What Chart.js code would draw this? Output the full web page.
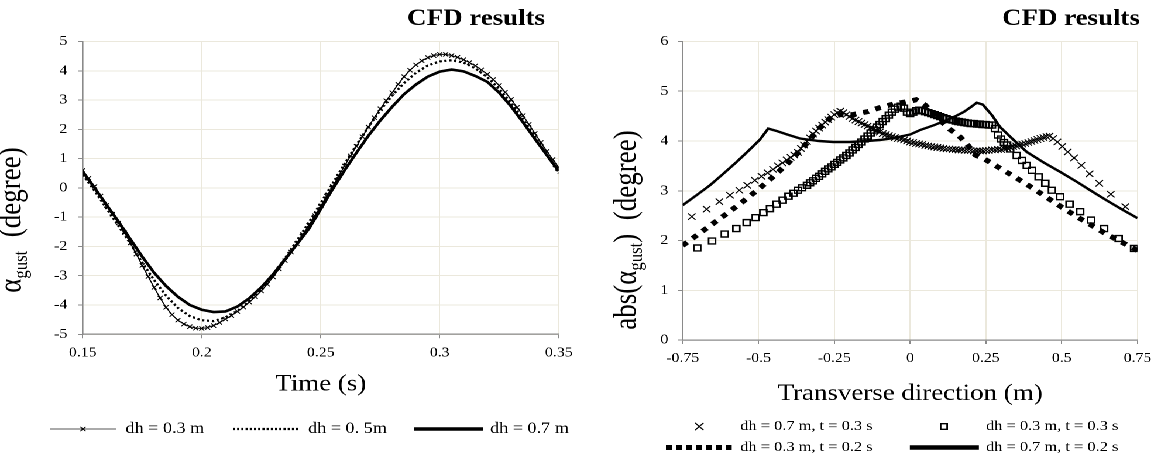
<!DOCTYPE html>
<html>
<head>
<meta charset="utf-8">
<script src="https://cdn.jsdelivr.net/npm/chart.js"></script>
<style>
  html, body { margin: 0; padding: 0; background: #fff; overflow: hidden; }
  #wrap { position: absolute; left: 0; top: 0; width: 992px; height: 459px;
          transform: scaleX(1.17036); transform-origin: 0 0; }
  canvas { position: absolute; top: 0; }
</style>
</head>
<body>
<div id="wrap">
  <canvas id="left" width="496" height="459" style="left:0"></canvas>
  <canvas id="right" width="496" height="459" style="left:496px"></canvas>
</div>
<script>
// ---- left chart: gust angle vs time ----
const tFine = [0.15,0.1525,0.155,0.1575,0.16,0.1625,0.165,0.1675,0.17,0.1725,0.175,0.1775,0.18,0.1825,0.185,0.1875,0.19,0.1925,0.195,0.1975,
  0.2,0.2025,0.205,0.2075,0.21,0.2125,0.215,0.2175,0.22,0.2225,0.225,0.2275,0.23,0.2325,0.235,0.2375,0.24,0.2425,0.245,0.2475,
  0.25,0.2525,0.255,0.2575,0.26,0.2625,0.265,0.2675,0.27,0.2725,0.275,0.2775,0.28,0.2825,0.285,0.2875,0.29,0.2925,0.295,0.2975,
  0.3,0.3025,0.305,0.3075,0.31,0.3125,0.315,0.3175,0.32,0.3225,0.325,0.3275,0.33,0.3325,0.335,0.3375,0.34,0.3425,0.345,0.3475,0.35];
const dh03 = [0.60,0.33,0.05,-0.28,-0.60,-0.90,-1.20,-1.53,-1.88,-2.26,-2.65,-3.03,-3.40,-3.76,-4.08,-4.33,-4.52,-4.65,-4.74,-4.79,
  -4.80,-4.77,-4.70,-4.60,-4.48,-4.36,-4.22,-4.07,-3.90,-3.72,-3.52,-3.29,-3.04,-2.77,-2.48,-2.19,-1.90,-1.59,-1.28,-0.95,
  -0.62,-0.28,0.05,0.40,0.75,1.09,1.42,1.75,2.08,2.40,2.70,2.98,3.25,3.54,3.80,4.02,4.20,4.34,4.45,4.52,
  4.56,4.56,4.52,4.46,4.38,4.28,4.17,4.03,3.88,3.70,3.50,3.27,3.02,2.75,2.47,2.17,1.86,1.55,1.25,0.97,0.70];

const tCoarse = [0.15,0.155,0.16,0.165,0.17,0.175,0.18,0.185,0.19,0.195,0.2,0.205,0.21,0.215,0.22,0.225,0.23,0.235,0.24,0.245,
  0.25,0.255,0.26,0.265,0.27,0.275,0.28,0.285,0.29,0.295,0.3,0.305,0.31,0.315,0.32,0.325,0.33,0.335,0.34,0.345,0.35];
const dh05 = [0.45,-0.10,-0.70,-1.30,-1.90,-2.55,-3.15,-3.68,-4.10,-4.38,-4.52,-4.55,-4.42,-4.20,-3.88,-3.45,-2.95,-2.40,-1.80,-1.18,
  -0.52,0.15,0.82,1.47,2.08,2.65,3.15,3.58,3.93,4.18,4.32,4.36,4.28,4.08,3.78,3.38,2.90,2.35,1.75,1.12,0.50];
const dh07 = [0.55,0.00,-0.58,-1.15,-1.75,-2.35,-2.90,-3.35,-3.72,-4.00,-4.16,-4.24,-4.22,-4.05,-3.77,-3.40,-2.95,-2.45,-1.92,-1.40,
  -0.72,-0.04,0.60,1.20,1.78,2.30,2.77,3.20,3.53,3.80,3.97,4.04,3.98,3.82,3.62,3.25,2.78,2.24,1.67,1.12,0.58];

const leftLabels = ['dh = 0.3 m', 'dh = 0. 5m', 'dh = 0.7 m'];

// ---- right chart: |gust angle| across the transverse direction ----
const xA = [-0.720,-0.671,-0.629,-0.594,-0.563,-0.537,-0.512,-0.490,-0.470,-0.452,-0.436,-0.421,-0.407,-0.394,-0.382,
  -0.37,-0.36,-0.35,-0.34,-0.33,-0.32,-0.31,-0.30,-0.29,-0.28,-0.27,-0.26,-0.25,-0.24,-0.23,-0.22,-0.21,-0.20,-0.19,-0.18,
  -0.17,-0.16,-0.15,-0.14,-0.13,-0.12,-0.11,-0.10,-0.09,-0.08,-0.07,-0.06,-0.05,-0.04,-0.03,-0.02,-0.01,0.00,0.01,0.02,
  0.03,0.04,0.05,0.06,0.07,0.08,0.09,0.10,0.11,0.12,0.13,0.14,0.15,0.16,0.17,0.18,0.19,0.20,0.21,0.22,
  0.23,0.24,0.25,0.26,0.27,0.28,0.29,0.30,0.31,0.32,0.33,0.34,0.35,0.36,0.37,0.38,0.39,0.40,0.41,0.42,
  0.43,0.44,0.45,0.46,0.472,0.486,0.502,0.520,0.541,0.565,0.592,0.624,0.662,0.710];
const yA = [2.48,2.63,2.78,2.91,3.01,3.11,3.21,3.29,3.36,3.43,3.50,3.56,3.62,3.67,3.72,
  3.77,3.85,3.92,3.99,4.06,4.14,4.20,4.26,4.32,4.38,4.43,4.48,4.53,4.57,4.60,4.57,4.53,4.49,4.45,4.42,
  4.39,4.36,4.33,4.30,4.27,4.24,4.21,4.18,4.15,4.13,4.11,4.09,4.07,4.05,4.04,4.02,4.00,3.98,3.97,3.95,
  3.94,3.93,3.91,3.90,3.89,3.88,3.87,3.86,3.85,3.84,3.84,3.83,3.83,3.82,3.82,3.81,3.81,3.81,3.80,3.80,
  3.80,3.80,3.81,3.81,3.82,3.82,3.83,3.83,3.85,3.86,3.87,3.89,3.90,3.92,3.94,3.95,3.97,3.99,4.01,4.03,
  4.05,4.07,4.09,4.10,4.05,3.98,3.89,3.78,3.66,3.51,3.34,3.15,2.93,2.68];

const xB = [-0.702,-0.653,-0.611,-0.573,-0.539,-0.509,-0.484,-0.462,-0.440,-0.420,-0.401,-0.385,-0.370,-0.356,
  -0.34,-0.33,-0.32,-0.31,-0.30,-0.29,-0.28,-0.27,-0.26,-0.25,-0.24,-0.23,-0.22,-0.21,-0.20,-0.19,-0.18,-0.17,-0.16,-0.15,
  -0.14,-0.13,-0.12,-0.11,-0.10,-0.09,-0.08,-0.07,-0.06,-0.05,-0.04,-0.03,-0.02,-0.01,0.00,0.01,0.02,0.03,0.04,0.05,
  0.06,0.07,0.08,0.09,0.10,0.11,0.12,0.13,0.14,0.15,0.16,0.17,0.18,0.19,0.20,0.21,0.22,0.23,0.24,0.25,
  0.26,0.27,0.28,0.29,0.30,0.31,0.32,0.33,
  0.352,0.369,0.385,0.402,0.424,0.446,0.468,0.495,0.526,0.561,0.597,0.640,0.688,0.739];
const yB = [1.85,1.99,2.13,2.24,2.36,2.46,2.56,2.64,2.73,2.81,2.89,2.95,3.01,3.06,
  3.11,3.16,3.20,3.25,3.29,3.34,3.39,3.44,3.48,3.53,3.57,3.62,3.66,3.71,3.76,3.82,3.87,3.93,3.98,4.04,
  4.10,4.16,4.22,4.28,4.33,4.39,4.45,4.52,4.58,4.64,4.68,4.70,4.66,4.58,4.55,4.58,4.61,4.62,4.61,4.59,
  4.57,4.55,4.53,4.51,4.49,4.47,4.45,4.43,4.42,4.40,4.39,4.38,4.37,4.36,4.35,4.35,4.34,4.34,4.33,4.33,
  4.32,4.32,4.25,4.12,4.04,3.97,3.92,3.84,
  3.71,3.61,3.51,3.41,3.28,3.15,3.01,2.88,2.73,2.58,2.41,2.24,2.04,1.84];

const xC = [-0.750,-0.700,-0.650,-0.600,-0.550,-0.500,-0.450,-0.400,-0.350,-0.300,-0.260,-0.230,-0.190,-0.140,-0.100,-0.050,
  0.000,0.020,0.050,0.090,0.130,0.160,0.185,0.215,0.245,0.300,0.350,0.400,0.450,0.500,0.550,0.600,0.650,0.700,0.750];
const yC = [1.90,2.12,2.34,2.56,2.79,3.03,3.29,3.57,3.89,4.25,4.48,4.53,4.53,4.59,4.67,4.75,
  4.80,4.83,4.72,4.47,4.24,4.11,3.96,3.72,3.64,3.44,3.26,3.07,2.87,2.67,2.48,2.30,2.12,1.96,1.80];

const xD = [-0.750,-0.700,-0.660,-0.620,-0.572,-0.530,-0.495,-0.468,-0.440,-0.400,-0.363,-0.300,-0.253,-0.200,-0.143,-0.100,
  -0.055,0.000,0.033,0.080,0.121,0.150,0.176,0.200,0.220,0.240,0.270,0.297,0.340,0.385,0.440,0.495,0.550,0.594,0.650,0.700,0.750];
const yD = [2.71,2.93,3.11,3.32,3.58,3.82,4.03,4.25,4.20,4.12,4.05,4.00,3.98,3.98,4.00,4.02,
  4.06,4.13,4.22,4.32,4.42,4.50,4.58,4.68,4.77,4.73,4.52,4.28,4.03,3.78,3.57,3.38,3.18,3.01,2.80,2.62,2.45];

const rightLabels = ['dh = 0.7 m, t = 0.3 s', 'dh = 0.3 m, t = 0.3 s', 'dh = 0.3 m, t = 0.2 s', 'dh = 0.7 m, t = 0.2 s'];

const SERIF = '"Liberation Serif", "Times New Roman", serif';
const GRID = '#ebe8dc';
const AXIS = '#8a8a8a';
Chart.defaults.font.family = SERIF;

const pts = (xs, ys) => xs.map((x, i) => ({ x: x, y: ys[i] }));

// rotated title with a subscript run
function drawRuns(ctx, runs, size) {
  const fonts = runs.map(r => (r.sub ? size * 0.62 : size) + 'px ' + SERIF);
  let total = 0;
  const widths = runs.map((r, i) => {
    ctx.font = fonts[i];
    const w = ctx.measureText(r.text).width;
    total += w;
    return w;
  });
  let x = -total / 2;
  ctx.textAlign = 'left';
  runs.forEach((r, i) => {
    ctx.font = fonts[i];
    ctx.fillText(r.text, x, r.sub ? size * 0.2 : 0);
    x += widths[i];
  });
}

function drawMark(ctx, kind, x, y, r) {
  ctx.beginPath();
  if (kind === 'x') {
    ctx.moveTo(x - r, y - r); ctx.lineTo(x + r, y + r);
    ctx.moveTo(x + r, y - r); ctx.lineTo(x - r, y + r);
    ctx.stroke();
  } else {
    ctx.fillStyle = '#fff';
    ctx.rect(x - r, y - r, 2 * r, 2 * r);
    ctx.fill();
    ctx.stroke();
  }
}

const decor = {
  id: 'decor',
  afterDraw(chart, args, o) {
    const ctx = chart.ctx, a = chart.chartArea;
    ctx.save();
    ctx.fillStyle = '#000';
    ctx.textBaseline = 'alphabetic';
    ctx.font = 'bold 23px ' + SERIF;
    ctx.textAlign = 'right';
    ctx.fillText('CFD results', o.titleRight, 25);

    ctx.font = '23px ' + SERIF;
    ctx.textAlign = 'center';
    ctx.fillText(o.xTitle, (a.left + a.right) / 2, o.xTitleBase);

    ctx.save();
    ctx.translate(o.yTitleBase, o.yTitleMid);
    ctx.rotate(-Math.PI / 2);
    drawRuns(ctx, o.yTitle, 27);
    ctx.restore();

    o.legend.forEach(it => {
      const ds = chart.data.datasets[it.ds];
      ctx.strokeStyle = it.color || '#000';
      if (it.line) {
        ctx.lineWidth = it.lw;
        ctx.setLineDash(it.dash || []);
        ctx.beginPath();
        ctx.moveTo(it.line[0], it.y);
        ctx.lineTo(it.line[1], it.y);
        ctx.stroke();
        ctx.setLineDash([]);
      }
      if (it.mark) {
        ctx.strokeStyle = '#000';
        ctx.lineWidth = it.mark.bw;
        drawMark(ctx, it.mark.kind, it.mark.x, it.y, it.mark.r);
      }
      ctx.fillStyle = '#000';
      ctx.font = it.size + 'px ' + SERIF;
      ctx.textAlign = 'left';
      ctx.textBaseline = 'middle';
      ctx.fillText(ds.label, it.tx, it.y);
    });
    ctx.restore();
  }
};

function axis(min, max, step, fit, isX, pad) {
  return {
    type: 'linear', min: min, max: max,
    ticks: { stepSize: step, color: '#000', font: { size: 13.5 }, padding: pad, maxRotation: 0, autoSkip: false,
             callback: v => String(Number(v.toFixed(2))) },
    grid: { color: GRID, lineWidth: 1, tickColor: AXIS, tickLength: 4 },
    border: { color: AXIS, width: 1.3 },
    afterFit: s => { if (isX) s.height = fit; else s.width = fit; }
  };
}

new Chart(document.getElementById('left'), {
  type: 'scatter',
  data: {
    datasets: [
      { label: leftLabels[0], data: pts(tFine, dh03), showLine: true, borderColor: '#000', borderWidth: 1,
        pointStyle: 'crossRot', pointRadius: 3, pointBorderWidth: 0.9, pointBorderColor: '#000' },
      { label: leftLabels[1], data: pts(tCoarse, dh05), showLine: true, borderColor: '#000', borderWidth: 2.2,
        borderDash: [2, 2.2], pointRadius: 0 },
      { label: leftLabels[2], data: pts(tCoarse, dh07), showLine: true, borderColor: '#000', borderWidth: 2.6,
        pointRadius: 0 }
    ]
  },
  options: {
    responsive: false, animation: false, devicePixelRatio: 2,
    layout: { padding: { top: 41.5, right: 18.6, left: 0, bottom: 0 } },
    scales: {
      x: axis(0.15, 0.35, 0.05, 124.7, true, 6.5),
      y: axis(-5, 5, 1, 70.7, false, 9.2)
    },
    plugins: {
      legend: { display: false }, tooltip: { enabled: false },
      decor: {
        titleRight: 465.7, xTitle: 'Time (s)', xTitleBase: 390.7,
        yTitleBase: 17.7, yTitleMid: 220,
        yTitle: [{ text: 'α' }, { text: 'gust', sub: true }, { text: '  (degree)' }],
        legend: [
          { ds: 0, y: 429, line: [42.7, 99.1], lw: 1, color: '#555', mark: { kind: 'x', x: 70.9, r: 2.2, bw: 0.9 }, tx: 107.2, size: 15.5 },
          { ds: 1, y: 429, line: [199, 256.3], lw: 2.2, dash: [1.8, 1.8], tx: 263.2, size: 15.5 },
          { ds: 2, y: 429, line: [353.7, 412.7], lw: 3.5, tx: 418.7, size: 15.5 }
        ]
      }
    }
  },
  plugins: [decor]
});

new Chart(document.getElementById('right'), {
  type: 'scatter',
  data: {
    datasets: [
      { label: rightLabels[0], data: pts(xA, yA), showLine: false, pointStyle: 'crossRot', pointRadius: 4.5,
        pointBorderWidth: 1, pointBorderColor: '#000', pointBackgroundColor: '#000' },
      { label: rightLabels[1], data: pts(xB, yB), showLine: false, pointStyle: 'rect', pointRadius: 4.2,
        pointBorderWidth: 1.4, pointBorderColor: '#000', pointBackgroundColor: 'rgba(0,0,0,0)' },
      { label: rightLabels[2], data: pts(xC, yC), showLine: true, borderColor: '#000', borderWidth: 5,
        borderDash: [5, 6], pointRadius: 0 },
      { label: rightLabels[3], data: pts(xD, yD), showLine: true, borderColor: '#000', borderWidth: 2.4,
        pointRadius: 0 }
    ]
  },
  options: {
    responsive: false, animation: false, devicePixelRatio: 2,
    layout: { padding: { top: 41.5, right: 20.1, left: 0, bottom: 0 } },
    scales: {
      x: axis(-0.75, 0.75, 0.25, 119, true, 6.5),
      y: axis(0, 6, 1, 87.3, false, 8.3)
    },
    plugins: {
      legend: { display: false }, tooltip: { enabled: false },
      decor: {
        titleRight: 478, xTitle: 'Transverse direction (m)', xTitleBase: 400,
        yTitleBase: 46.9, yTitleMid: 230,
        yTitle: [{ text: 'abs(α' }, { text: 'gust', sub: true }, { text: ')  (degree)' }],
        legend: [
          { ds: 0, y: 426.5, mark: { kind: 'x', x: 101.5, r: 3.6, bw: 1.1 }, tx: 136.5, size: 14 },
          { ds: 1, y: 426.5, mark: { kind: 'sq', x: 310.5, r: 2.8, bw: 1.4 }, tx: 346.5, size: 14 },
          { ds: 2, y: 447.5, line: [73, 131.2], lw: 5, dash: [5.2, 3.3], tx: 136.5, size: 14 },
          { ds: 3, y: 447.5, line: [281.4, 340.4], lw: 4.5, tx: 346.5, size: 14 }
        ]
      }
    }
  },
  plugins: [decor]
});
</script>
</body>
</html>
